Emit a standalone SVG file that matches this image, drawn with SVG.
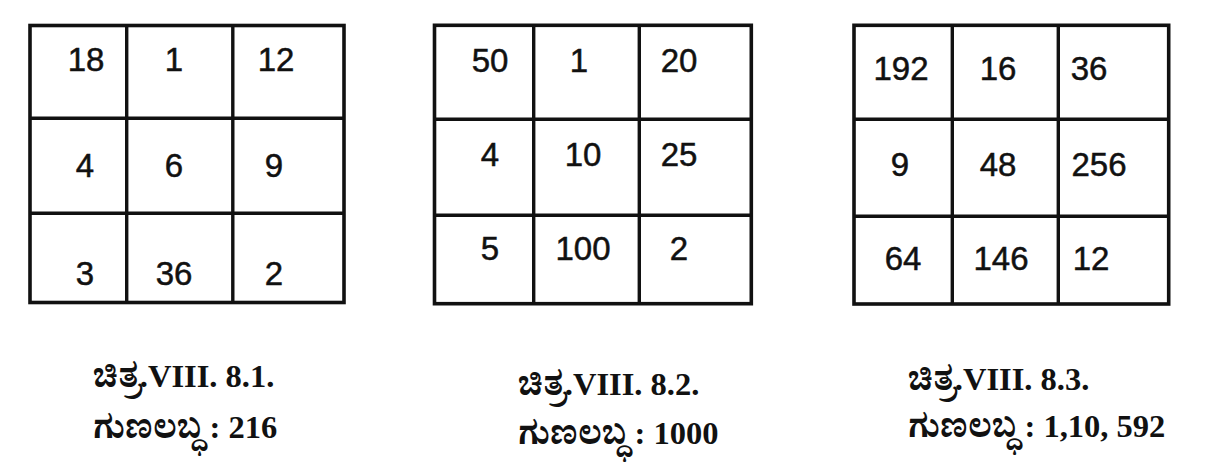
<svg xmlns="http://www.w3.org/2000/svg" width="1206" height="471" viewBox="0 0 1206 471">
<style>
.grid{fill:none;stroke:#111;stroke-width:3.6}
.ln{stroke:#111;stroke-width:3.4}
.num{font-family:"Liberation Sans",Arial,sans-serif;font-size:33px;fill:#111;stroke:#111;stroke-width:0.5;text-anchor:middle}
.cap{font-family:"Liberation Serif","Noto Serif Kannada","Noto Sans Kannada","Tunga","Lohit Kannada",serif;font-size:32.5px;font-weight:bold;fill:#111}
</style>
<rect x="0" y="0" width="1206" height="471" fill="#fff"/>
<g id="grid1">
<rect class="grid" x="30" y="25.5" width="314" height="277"/>
<line class="ln" x1="126.7" y1="25.5" x2="126.7" y2="302.5"/>
<line class="ln" x1="232.8" y1="25.5" x2="232.8" y2="302.5"/>
<line class="ln" x1="30" y1="118.3" x2="344" y2="118.3"/>
<line class="ln" x1="30" y1="213.3" x2="344" y2="213.3"/>
<text class="num" x="86" y="71">18</text>
<text class="num" x="174" y="71">1</text>
<text class="num" x="276" y="71">12</text>
<text class="num" x="85" y="177">4</text>
<text class="num" x="174" y="177">6</text>
<text class="num" x="274" y="177">9</text>
<text class="num" x="85" y="285">3</text>
<text class="num" x="174" y="285">36</text>
<text class="num" x="274" y="285">2</text>
</g>
<g id="grid2">
<rect class="grid" x="434.5" y="25.3" width="316.8" height="278.4"/>
<line class="ln" x1="533.7" y1="25.3" x2="533.7" y2="303.7"/>
<line class="ln" x1="639.3" y1="25.3" x2="639.3" y2="303.7"/>
<line class="ln" x1="434.5" y1="119.3" x2="751.3" y2="119.3"/>
<line class="ln" x1="434.5" y1="215.3" x2="751.3" y2="215.3"/>
<text class="num" x="490" y="72">50</text>
<text class="num" x="579" y="72">1</text>
<text class="num" x="679" y="72">20</text>
<text class="num" x="490" y="166">4</text>
<text class="num" x="583" y="166">10</text>
<text class="num" x="679" y="166">25</text>
<text class="num" x="490" y="260">5</text>
<text class="num" x="583" y="260">100</text>
<text class="num" x="679" y="260">2</text>
</g>
<g id="grid3">
<rect class="grid" x="854" y="25.3" width="314.7" height="278.7"/>
<line class="ln" x1="952.3" y1="25.3" x2="952.3" y2="304"/>
<line class="ln" x1="1058.3" y1="25.3" x2="1058.3" y2="304"/>
<line class="ln" x1="854" y1="119.3" x2="1168.7" y2="119.3"/>
<line class="ln" x1="854" y1="216.3" x2="1168.7" y2="216.3"/>
<text class="num" x="901" y="80">192</text>
<text class="num" x="998" y="80">16</text>
<text class="num" x="1089" y="80">36</text>
<text class="num" x="900" y="176">9</text>
<text class="num" x="998" y="176">48</text>
<text class="num" x="1099" y="176">256</text>
<text class="num" x="903" y="270">64</text>
<text class="num" x="1001" y="270">146</text>
<text class="num" x="1091" y="270">12</text>
</g>
<g id="label1">
<text class="cap" x="93" y="387">ಚಿತ್ರ.VIII. 8.1.</text>
<text class="cap" x="93" y="438">ಗುಣಲಬ್ಧ : 216</text>
</g>
<g id="label2">
<text class="cap" x="518" y="395">ಚಿತ್ರ.VIII. 8.2.</text>
<text class="cap" x="518" y="444">ಗುಣಲಬ್ಧ : 1000</text>
</g>
<g id="label3">
<text class="cap" x="908" y="390">ಚಿತ್ರ.VIII. 8.3.</text>
<text class="cap" x="908" y="437">ಗುಣಲಬ್ಧ : 1,10, 592</text>
</g>
</svg>
